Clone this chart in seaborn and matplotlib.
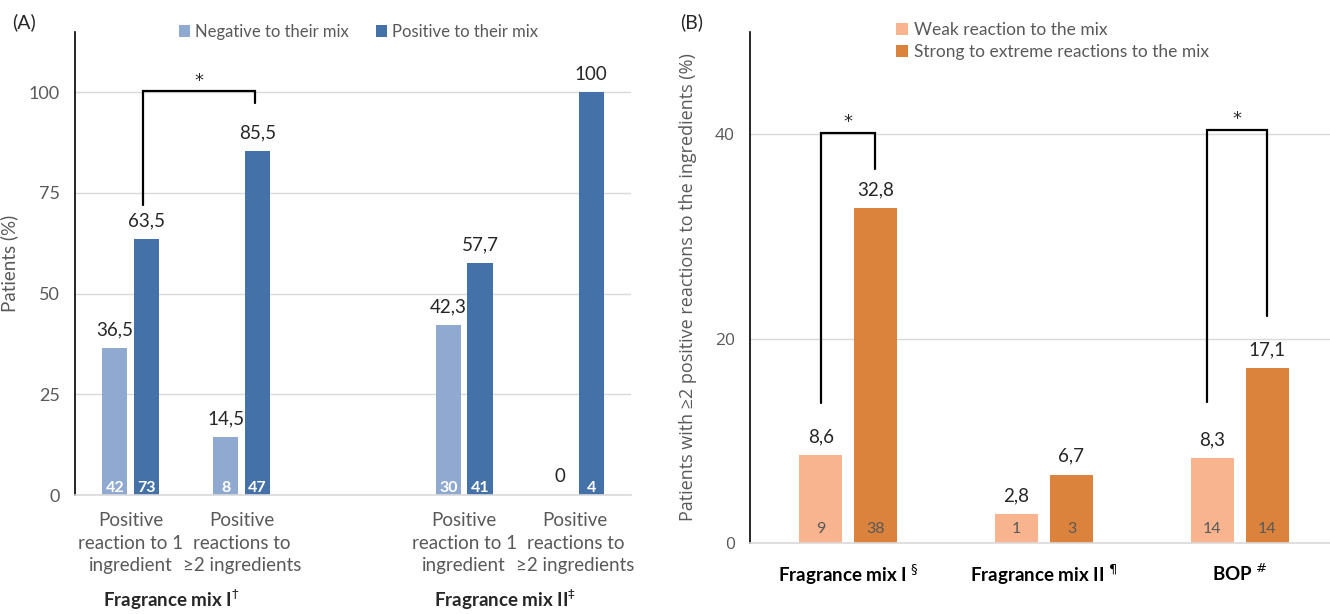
import numpy as np
import pandas as pd
import seaborn as sns
import matplotlib.pyplot as plt

# ---- panel A data ----
a_pos = [0, 1, 3, 4]
a_ticklabels = ['Positive\nreaction to 1\ningredient', 'Positive\nreactions to\n\u22652 ingredients',
                'Positive\nreaction to 1\ningredient', 'Positive\nreactions to\n\u22652 ingredients']
a_groups = ['Fragrance mix I$^{\\dagger}$', 'Fragrance mix II$^{\\ddagger}$']
a_series = ['Negative to their mix', 'Positive to their mix']
a_neg = [36.5, 14.5, 42.3, 0]
a_posv = [63.5, 85.5, 57.7, 100]
a_n_neg = [42, 8, 30, None]
a_n_pos = [73, 47, 41, 4]

# ---- panel B data ----
b_cats = ['Fragrance mix I $^{\\S}$', 'Fragrance mix II $^{\\P}$', 'BOP $^{\\#}$']
b_series = ['Weak reaction to the mix', 'Strong to extreme reactions to the mix']
b_weak = [8.6, 2.8, 8.3]
b_strong = [32.8, 6.7, 17.1]
b_n_weak = [9, 1, 14]
b_n_strong = [38, 3, 14]

# significance brackets: (x_left, x_right, left_bottom, top, right_bottom)
sig_a = [(0.11, 1.12, 72, 100.3, 97.3)]
sig_b = [(-0.14, 0.14, 13.7, 40.1, 36.6), (1.83, 2.14, 13.8, 40.4, 22.2)]

BLUE_L, BLUE_D = '#8FA9D1', '#4471A8'
ORG_L, ORG_D = '#F8B48F', '#DB833D'
GRID = '#d9d9d9'
TXT = '#595959'

sns.set_style('white')
plt.rcParams['font.family'] = ['Lato', 'DejaVu Sans']


def fmt(v):
    if v == int(v):
        return str(int(v))
    return f'{v:.1f}'.replace('.', ',')


def style_axis(ax):
    sns.despine(ax=ax)
    ax.spines['left'].set_color('black')
    ax.spines['left'].set_linewidth(1.2)
    ax.spines['bottom'].set_color(GRID)
    ax.spines['bottom'].set_linewidth(1.2)
    ax.yaxis.grid(True, color=GRID, lw=1)
    ax.set_axisbelow(True)
    ax.tick_params(axis='y', direction='inout', length=8, width=1, color='black',
                   labelsize=13, labelcolor=TXT, pad=7)
    ax.tick_params(axis='x', length=0)


def label_bars(ax, counts, ccolor, cweight, cdy):
    for cont, vals in zip(ax.containers, counts):
        ax.bar_label(cont, labels=[fmt(b.get_height()) for b in cont], padding=7,
                     fontsize=13.5, color='#262626')
        for b, n in zip(cont, vals):
            if n is None:
                continue
            ax.annotate(str(n), (b.get_x() + b.get_width() / 2, 0), xytext=(0, cdy),
                        textcoords='offset points', ha='center', va='center',
                        fontsize=11.5, color=ccolor, fontweight=cweight)


def brackets(ax, specs, star_dy):
    for xl, xr, yl, yt, yr in specs:
        ax.plot([xl, xl, xr, xr], [yl, yt, yt, yr], color='black', lw=1.6,
                solid_joinstyle='miter', zorder=5)
        ax.text((xl + xr) / 2, yt + star_dy, '*', ha='center', va='center',
                fontsize=13, family='DejaVu Sans', color='#262626')


fig = plt.figure(figsize=(13.3, 6.14), dpi=100)

# ---------------- panel A ----------------
axA = fig.add_axes([0.0564, 0.1938, 0.418, 0.7542])
dfA = pd.DataFrame({
    'x': a_pos * 2,
    'val': a_neg + a_posv,
    'series': [a_series[0]] * 4 + [a_series[1]] * 4,
})
sns.barplot(data=dfA, x='x', y='val', hue='series', hue_order=a_series,
            palette=[BLUE_L, BLUE_D], saturation=1, native_scale=True,
            width=0.57, gap=0.21, linewidth=0, ax=axA)
style_axis(axA)
axA.set_ylim(0, 115)
axA.set_xlim(-0.5, 4.5)
axA.set_yticks([0, 25, 50, 75, 100])
axA.set_xticks(a_pos, a_ticklabels, fontsize=13.5, color=TXT, linespacing=1.42)
axA.tick_params(axis='x', pad=12)
axA.set_xlabel('')
axA.set_ylabel('Patients (%)', fontsize=13.5, color=TXT)
axA.yaxis.set_label_coords(-0.1025, 0.5)
label_bars(axA, [a_n_neg, a_n_pos], 'white', 'bold', 5)
brackets(axA, sig_a, 2.6)
for gx, g in zip([0.37, 3.37], a_groups):
    axA.text(gx, -0.226, g, transform=axA.get_xaxis_transform(), ha='center',
             va='center', fontsize=13.5, fontweight='bold')
sns.move_legend(axA, 'upper center', bbox_to_anchor=(0.51, 1.05), ncol=2,
                frameon=False, title=None, fontsize=12, handlelength=0.7,
                handleheight=0.7, handletextpad=0.3, columnspacing=1.6)
for t in axA.get_legend().get_texts():
    t.set_color(TXT)

# ---------------- panel B ----------------
axB = fig.add_axes([0.564, 0.1156, 0.436, 0.8324])
dfB = pd.DataFrame({
    'cat': b_cats * 2,
    'val': b_weak + b_strong,
    'series': [b_series[0]] * 3 + [b_series[1]] * 3,
})
sns.barplot(data=dfB, x='cat', y='val', hue='series', hue_order=b_series,
            palette=[ORG_L, ORG_D], saturation=1, width=0.56, gap=0.21,
            linewidth=0, ax=axB)
style_axis(axB)
axB.set_ylim(0, 50)
axB.set_xlim(-0.5, 2.46)
axB.set_yticks([0, 20, 40])
for lab in axB.get_yticklabels():
    lab.set_family(['Open Sans', 'DejaVu Sans'])
    lab.set_fontsize(12.5)
axB.set_xticks(range(len(b_cats)), b_cats, fontsize=13.5, fontweight='bold', color='black')
axB.tick_params(axis='x', pad=14)
axB.set_xlabel('')
axB.set_ylabel('Patients with \u22652 positive reactions to the ingredients (%)',
               fontsize=13, color=TXT, family=['Open Sans', 'DejaVu Sans'])
axB.yaxis.set_label_coords(-0.0914, 0.5)
label_bars(axB, [b_n_weak, b_n_strong], TXT, 'normal', 10)
brackets(axB, sig_b, 1.1)
sns.move_legend(axB, 'upper left', bbox_to_anchor=(0.225, 1.05), ncol=1,
                frameon=False, title=None, fontsize=12.5, handlelength=0.7,
                handleheight=0.7, handletextpad=0.3, labelspacing=0.35)
for t in axB.get_legend().get_texts():
    t.set_color(TXT)

fig.text(12 / 1330, 1 - 22 / 614, '(A)', fontsize=14, va='center')
fig.text(680 / 1330, 1 - 22 / 614, '(B)', fontsize=14, va='center')

fig.savefig('out.png', dpi=100)
